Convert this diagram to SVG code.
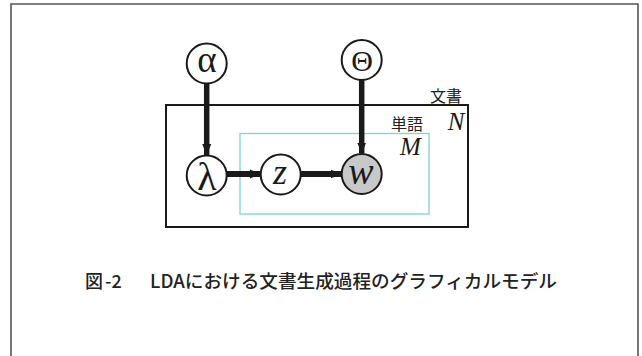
<svg xmlns="http://www.w3.org/2000/svg" width="642" height="356" viewBox="0 0 642 356">
<defs>
<style>
.node{fill:#fff;stroke:#1a1a1a;stroke-width:2}
.obs{fill:#c8c8c8}
.sym{font-family:"Liberation Serif","Times New Roman","DejaVu Serif",serif;fill:#1a1a1a;text-anchor:middle}
.it{font-style:italic}
.jp{font-family:"Noto Sans CJK JP","Noto Sans",sans-serif;fill:#222}
.edge{stroke:#1a1a1a;fill:none}
</style>
<marker id="ah" markerUnits="userSpaceOnUse" markerWidth="12" markerHeight="10" refX="11" refY="5" orient="auto">
<path d="M0,0.5 L11,5 L0,9.5 Z" fill="#1a1a1a"/>
</marker>
</defs>
<rect width="642" height="356" fill="#fff"/>
<path d="M11,356 V4 H638 V356" fill="none" stroke="#555" stroke-width="1.6"/>
<g id="plates">
<rect x="166" y="105" width="302" height="122" fill="none" stroke="#1a1a1a" stroke-width="2"/>
<rect x="240" y="133.5" width="189" height="80.5" fill="none" stroke="#7fd3d0" stroke-width="1.3"/>
<text class="jp" x="430" y="102" font-size="16">文書</text>
<text class="jp" x="391" y="130" font-size="16">単語</text>
<text class="sym it" x="456" y="130" font-size="25" font-family="Liberation Serif, serif">N</text>
<text class="sym it" x="410.5" y="155" font-size="25" font-family="Liberation Serif, serif">M</text>
</g>
<g id="connectors">
<line class="edge" x1="206.7" y1="83" x2="206.7" y2="155" stroke-width="5.5" marker-end="url(#ah)"/>
<line class="edge" x1="361.7" y1="80" x2="361.7" y2="153.5" stroke-width="5.5" marker-end="url(#ah)"/>
<line class="edge" x1="226.7" y1="174" x2="261" y2="174" stroke-width="5.8" marker-end="url(#ah)"/>
<line class="edge" x1="300.7" y1="174" x2="341.5" y2="174" stroke-width="5.8" marker-end="url(#ah)"/>
</g>
<g id="alpha">
<circle class="node" cx="206.7" cy="63.5" r="20"/>
<text class="sym" x="207" y="72" font-size="37" font-family="Liberation Serif, serif">α</text>
</g>
<g id="theta">
<circle class="node" cx="361.7" cy="60" r="20"/>
<text class="sym" x="362" y="70.5" font-size="30" font-family="Liberation Serif, serif">Θ</text>
</g>
<g id="lambda">
<circle class="node" cx="206.7" cy="175.5" r="20"/>
<text class="sym" x="207" y="190" font-size="40" font-family="Liberation Serif, serif">λ</text>
</g>
<g id="z">
<circle class="node" cx="280.7" cy="174.5" r="20"/>
<text class="sym it" x="280" y="183.5" font-size="36" font-family="Liberation Serif, serif">z</text>
</g>
<g id="w">
<circle class="node obs" cx="361.7" cy="174" r="20"/>
<text class="sym it" x="361" y="184" font-size="38" font-family="Liberation Serif, serif">w</text>
</g>
<g id="caption">
<text class="jp" x="85" y="288" font-size="18" font-weight="500">図</text>
<text class="jp" x="105" y="288" font-size="18" font-weight="500">-2</text>
<text class="jp" x="150" y="288" font-size="18" font-weight="500" textLength="407" lengthAdjust="spacingAndGlyphs">LDAにおける文書生成過程のグラフィカルモデル</text>
</g>
</svg>
